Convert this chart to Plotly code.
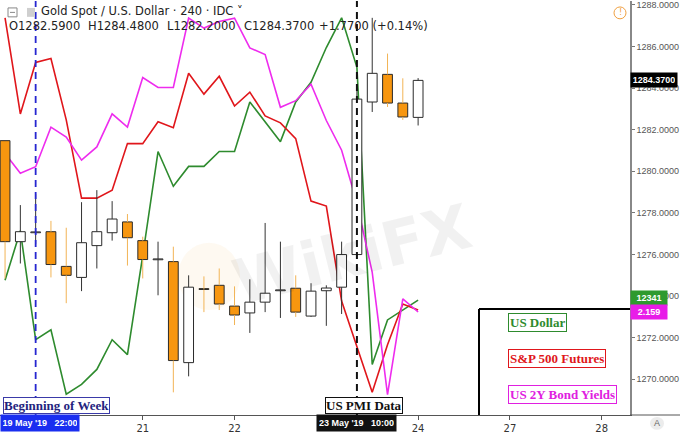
import plotly.graph_objects as go

# ---------------- data ----------------
candle_idx = list(range(28))
opens = [1281.47, 1276.61, 1277.04, 1277.09, 1275.42, 1274.89, 1276.42, 1277.04, 1277.56, 1276.66,
         1275.74, 1275.65, 1270.79, 1274.34, 1274.51, 1273.51, 1273.18, 1273.70, 1274.25, 1274.37,
         1273.03, 1274.25, 1274.42, 1275.99, 1283.33, 1284.66, 1283.28, 1282.59]
highs = [1281.47, 1278.37, 1278.90, 1277.61, 1277.28, 1278.51, 1279.09, 1278.56, 1277.94, 1276.85,
         1276.61, 1276.37, 1274.99, 1274.94, 1275.32, 1274.46, 1274.80, 1277.51, 1276.61, 1274.99,
         1274.61, 1274.51, 1276.61, 1283.90, 1287.38, 1285.66, 1284.47, 1284.48]
lows = [1274.84, 1275.56, 1276.50, 1274.89, 1273.65, 1274.23, 1275.32, 1276.66, 1275.46, 1274.84,
        1274.03, 1269.36, 1270.13, 1273.22, 1273.32, 1272.60, 1272.22, 1273.22, 1272.94, 1272.99,
        1272.99, 1272.56, 1273.13, 1275.90, 1282.85, 1283.09, 1282.47, 1282.20]
closes = [1276.61, 1277.09, 1277.06, 1275.51, 1274.99, 1276.56, 1277.09, 1277.70, 1276.80, 1275.75,
          1275.76, 1270.89, 1274.42, 1274.31, 1273.61, 1273.08, 1273.70, 1274.13, 1274.28, 1273.22,
          1274.23, 1274.38, 1275.99, 1283.47, 1284.71, 1283.28, 1282.61, 1284.37]

usd_index = [12345, 12355, 12333, 12335, 12322, 12324, 12327, 12333, 12330, 12350,
             12371, 12364, 12368, 12368, 12371, 12371, 12381, 12377, 12373, 12381,
             12385, 12392, 12398, 12388, 12328, 12337, 12339, 12341]
spx_futures = [2864.3, 2854.6, 2859.8, 2860.2, 2854.0, 2846.1, 2846.1, 2846.9, 2851.6, 2851.6,
               2853.8, 2853.2, 2858.7, 2856.6, 2858.4, 2855.4, 2856.8, 2854.4, 2853.7, 2852.1,
               2845.8, 2845.3, 2835.7, 2831.1, 2826.5, 2831.3, 2835.4, 2834.8]
us2y_yield = [2.207, 2.201, 2.203, 2.215, 2.212, 2.205, 2.209, 2.219, 2.215, 2.230,
              2.227, 2.227, 2.248, 2.245, 2.247, 2.248, 2.239, 2.237, 2.221, 2.223,
              2.228, 2.217, 2.208, 2.192, 2.171, 2.134, 2.163, 2.159]

day_tick_idx = [9, 15, 27, 33, 39]
day_tick_text = ["21", "22", "24", "27", "28"]
week_start_idx = 2
pmi_idx = 23
week_start_label = "19 May '19\u00a0\u00a0\u00a022:00"
pmi_label = "23 May '19\u00a0\u00a0\u00a010:00"

# ---------------- style ----------------
ORANGE = "#F7960F"
ORANGE_WICK = "#F2B456"
DARK = "#2a2a2a"
GREEN = "#2E8B2E"
RED = "#E0161B"
MAGENTA = "#EE2CEE"
PW, PH = 630.0, 418.0


def px(x):
    return x / PW


def py(y):
    return (PH - y) / PH


fig = go.Figure()

# overlay lines (drawn under the candles)
fig.add_trace(go.Scatter(x=candle_idx, y=spx_futures, mode="lines", yaxis="y3",
                         line=dict(color=RED, width=1.6), hoverinfo="skip"))
fig.add_trace(go.Scatter(x=candle_idx, y=us2y_yield, mode="lines", yaxis="y4",
                         line=dict(color=MAGENTA, width=1.6), hoverinfo="skip"))
fig.add_trace(go.Scatter(x=candle_idx, y=usd_index, mode="lines", yaxis="y2",
                         line=dict(color=GREEN, width=1.6), hoverinfo="skip"))

# candles: wicks (outside of body only) + bodies
bull_x, bull_y, bear_x, bear_y = [], [], [], []
body_base, body_h, body_fill = [], [], []
for i, o, h, l, c in zip(candle_idx, opens, highs, lows, closes):
    top, bot = max(o, c), min(o, c)
    bull = c >= o
    xs, ys = (bull_x, bull_y) if bull else (bear_x, bear_y)
    xs += [i, i, None, i, i, None]
    ys += [h, top, None, bot, l, None]
    hgt = max(top - bot, 0.04)
    body_base.append(bot)
    body_h.append(hgt)
    body_fill.append("#ffffff" if bull else ORANGE)

fig.add_trace(go.Bar(x=candle_idx, y=body_h, base=body_base, width=0.64, yaxis="y5",
                     marker=dict(color=body_fill, line=dict(color=DARK, width=1)),
                     hoverinfo="skip"))
fig.add_trace(go.Scatter(x=bull_x, y=bull_y, mode="lines", yaxis="y5",
                         line=dict(color="#333333", width=1), hoverinfo="skip"))
fig.add_trace(go.Scatter(x=bear_x, y=bear_y, mode="lines", yaxis="y5",
                         line=dict(color=ORANGE_WICK, width=1), hoverinfo="skip"))
# anchor the price axis
fig.add_trace(go.Scatter(x=[candle_idx[-1]], y=[closes[-1]], mode="markers",
                         marker=dict(opacity=0), hoverinfo="skip"))

price_range = [1268.27, 1288.19]

fig.update_layout(
    width=680, height=434,
    margin=dict(l=0, r=50, t=0, b=16),
    paper_bgcolor="white", plot_bgcolor="white",
    showlegend=False, barmode="overlay",
    font=dict(family="DejaVu Sans", color="#333"),
    xaxis=dict(range=[-0.33, 40.85], tickvals=day_tick_idx, ticktext=day_tick_text,
               ticks="outside", ticklen=4, tickcolor="#555", showline=True,
               linecolor="#555", linewidth=1, showgrid=False, zeroline=False,
               tickfont=dict(size=10, color="#333", family="DejaVu Sans")),
    yaxis=dict(side="right", range=price_range, tick0=1270, dtick=2, tickformat=".4f",
               ticks="outside", ticklen=3, tickcolor="#777", showline=True,
               linecolor="#888", linewidth=1.5, showgrid=False, zeroline=False,
               ticklabeloverflow="allow",
               tickfont=dict(size=9, color="#555", family="Liberation Sans")),
    yaxis2=dict(overlaying="y", range=[12317.8, 12401.4], visible=False),
    yaxis3=dict(overlaying="y", range=[2824.2, 2866.0], visible=False),
    yaxis4=dict(overlaying="y", range=[2.1278, 2.2532], visible=False),
    yaxis5=dict(overlaying="y", range=price_range, visible=False),
)

shapes = []
# watermark logo (faint)
shapes.append(dict(type="circle", xref="paper", yref="paper", layer="below",
                   x0=px(178), x1=px(240), y0=py(312), y1=py(244),
                   fillcolor="rgba(247,170,60,0.07)", line=dict(width=0)))
# event lines
shapes.append(dict(type="line", xref="x", yref="paper", x0=week_start_idx, x1=week_start_idx,
                   y0=0, y1=1, line=dict(color="#2626D0", width=1.8, dash="7px,5px")))
shapes.append(dict(type="line", xref="x", yref="paper", x0=pmi_idx, x1=pmi_idx,
                   y0=0, y1=1, line=dict(color="#111", width=2, dash="7px,5px")))
# legend frame
shapes.append(dict(type="line", xref="paper", yref="paper", x0=px(479), x1=1.0,
                   y0=py(311), y1=py(311), line=dict(color="#000", width=2)))
shapes.append(dict(type="line", xref="paper", yref="paper", x0=px(479), x1=px(479),
                   y0=0, y1=py(311), line=dict(color="#000", width=2)))
# axis line continuation under the price scale
shapes.append(dict(type="line", xref="paper", yref="paper", x0=1.0, x1=680 / PW,
                   y0=0, y1=0, line=dict(color="#555", width=1)))
# header icons
shapes.append(dict(type="rect", xref="paper", yref="paper", x0=px(8), x1=px(17),
                   y0=py(16), y1=py(7), line=dict(color="#888", width=1), fillcolor="white"))
shapes.append(dict(type="line", xref="paper", yref="paper", x0=px(10), x1=px(15),
                   y0=py(11.5), y1=py(11.5), line=dict(color="#888", width=1)))
shapes.append(dict(type="rect", xref="paper", yref="paper", x0=px(27), x1=px(35),
                   y0=py(16), y1=py(7), line=dict(width=0), fillcolor="#cfcfcf"))
# alert icon
shapes.append(dict(type="circle", xref="paper", yref="paper", x0=px(614), x1=px(626),
                   y0=py(18), y1=py(6), line=dict(color="#F0A040", width=1)))
# auto-scale button background
shapes.append(dict(type="circle", xref="paper", yref="paper", x0=px(650), x1=px(664),
                   y0=py(433), y1=py(420), line=dict(width=0), fillcolor="#ececec"))
fig.update_layout(shapes=shapes)

ann = []
# watermark text
ann.append(dict(xref="paper", yref="paper", x=px(352), y=py(256), text="<b>WikiFX</b>",
                showarrow=False, textangle=-14, yanchor="middle",
                font=dict(family="DejaVu Sans", size=62, color="rgba(0,0,0,0.055)")))
# header
ann.append(dict(xref="paper", yref="paper", x=px(39), y=py(10), xanchor="left", yanchor="middle",
                text="Gold Spot / U.S. Dollar \u00b7 240 \u00b7 IDC \u02c5", showarrow=False,
                font=dict(family="DejaVu Sans", size=11.5, color="#222")))
for xx, t in [(7, "O1282.5900"), (86, "H1284.4800"), (165, "L1282.2000"),
              (242, "C1284.3700"), (317, "+1.7700 (+0.14%)")]:
    ann.append(dict(xref="paper", yref="paper", x=px(xx), y=py(25), xanchor="left",
                    yanchor="middle", text=t, showarrow=False,
                    font=dict(family="DejaVu Sans", size=11.5, color="#222")))
ann.append(dict(xref="paper", yref="paper", x=px(620), y=py(12), text="!", showarrow=False,
                xanchor="center", yanchor="middle",
                font=dict(size=8, color="#F0A040")))
# event boxes
ann.append(dict(xref="paper", yref="paper", x=px(3), y=py(408.5), xanchor="left",
                yanchor="middle", text="<b>Beginning of Week</b>", showarrow=False,
                bgcolor="white", bordercolor="#3a3aa8", borderwidth=1, borderpad=0,
                font=dict(family="Liberation Serif", size=13, color="#23237e")))
ann.append(dict(xref="paper", yref="paper", x=px(325), y=py(408.5), xanchor="left",
                yanchor="middle", text="<b>US PMI Data</b>", showarrow=False,
                bgcolor="white", bordercolor="#111", borderwidth=1, borderpad=0,
                font=dict(family="Liberation Serif", size=13, color="#111")))
# legend labels
for yy, t, col in [(325, "US Dollar", GREEN), (361, "S&P 500 Futures", RED),
                   (397, "US 2Y Bond Yields", "#E020E0")]:
    ann.append(dict(xref="paper", yref="paper", x=px(508), y=py(yy), xanchor="left",
                    yanchor="middle", text="<b>" + t + "</b>", showarrow=False,
                    bgcolor="white", bordercolor=col, borderwidth=1, borderpad=1,
                    font=dict(family="Liberation Serif", size=13, color=col)))
# x-axis highlighted labels
ann.append(dict(xref="paper", yref="paper", x=0, y=py(426), xanchor="left",
                yanchor="middle", text="<b>" + week_start_label + "</b>", showarrow=False,
                bgcolor="#1A2EF0", borderpad=2, width=74, height=12,
                font=dict(family="Liberation Sans", size=9, color="white")))
ann.append(dict(xref="x", yref="paper", x=pmi_idx, y=py(426), xanchor="center",
                yanchor="middle", text="<b>" + pmi_label + "</b>", showarrow=False,
                bgcolor="#111111", borderpad=2, width=75, height=12,
                font=dict(family="Liberation Sans", size=9, color="white")))
# price-scale labels
ann.append(dict(xref="paper", yref="y", x=1.0, y=closes[-1], xanchor="left", yanchor="middle",
                text="<b>1284.3700</b>", showarrow=False, bgcolor="#000", borderpad=2,
                width=42, font=dict(family="Liberation Sans", size=9, color="white")))
ann.append(dict(xref="paper", yref="y2", x=1.0, y=usd_index[-1] + 0.4, xanchor="left",
                yanchor="middle", text="<b>%d</b>" % usd_index[-1], showarrow=False,
                bgcolor="#2E9A2E", borderpad=2, width=32,
                font=dict(family="Liberation Sans", size=9, color="white")))
ann.append(dict(xref="paper", yref="y4", x=1.0, y=us2y_yield[-1], xanchor="left",
                yanchor="middle", text="<b>%.3f</b>" % us2y_yield[-1], showarrow=False,
                bgcolor="#E81CE8", borderpad=2, width=32,
                font=dict(family="Liberation Sans", size=9, color="white")))
# auto-scale button
ann.append(dict(xref="paper", yref="paper", x=px(657), y=py(426.5), text="A", showarrow=False,
                xanchor="center", yanchor="middle", borderpad=0,
                font=dict(family="Liberation Sans", size=9, color="#666")))
fig.update_layout(annotations=ann)

fig.write_html("out.html", config={"displayModeBar": False},
               post_script="document.body.style.margin='0px';"
                           "document.body.style.overflow='hidden';")
